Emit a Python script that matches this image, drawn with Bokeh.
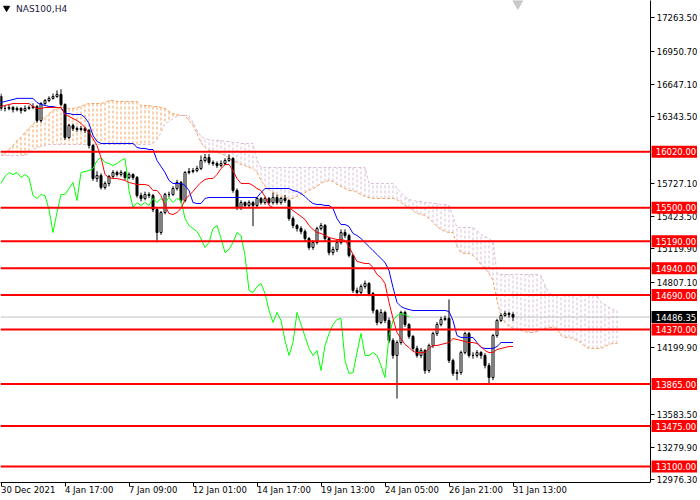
from bokeh.plotting import figure
from bokeh.models import FixedTicker, Label, Range1d, ColumnDataSource
from bokeh.layouts import column, row
from bokeh.core.properties import value
from bokeh.embed import file_html
from bokeh.resources import INLINE

# ---------------- data (NAS100, H4) ----------------
opens = [16533,16422,16422,16431,16412,16422,16403,16422,16431,16440,
         16310,16468,16496,16515,16533,16552,16459,16153,16264,16236,
         16227,16236,16218,16078,15772,15800,15689,15726,15791,15828,
         15809,15828,15781,15809,15781,15614,15587,15624,15614,15484,
         15271,15457,15624,15624,15679,15735,15568,15828,15837,15846,
         15865,15939,15967,15921,15911,15893,15911,15939,15958,15661,
         15503,15549,15522,15549,15522,15587,15549,15587,15549,15596,
         15549,15587,15568,15401,15336,15308,15280,15215,15132,15178,
         15308,15336,15215,15085,15113,15178,15271,15243,15058,14733,
         14714,14770,14798,14705,14547,14436,14529,14454,14269,14130,
         14250,14529,14417,14306,14195,14130,14176,13990,14222,14334,
         14417,14464,14473,14083,13963,13972,14157,14334,14130,14130,
         14157,14130,14037,13925,14315,14454,14501,14519,14510]
highs = [16560,16450,16455,16445,16440,16435,16450,16450,16470,16455,
         16480,16510,16535,16560,16590,16600,16470,16280,16280,16255,
         16260,16250,16230,16090,15840,15820,15745,15805,15850,15845,
         15850,15840,15830,15820,15795,15640,15650,15645,15630,15500,
         15470,15640,15650,15700,15760,15750,15840,15870,15870,15890,
         15985,16000,16000,15940,15930,15940,15960,15995,15970,15680,
         15570,15560,15570,15565,15600,15600,15605,15600,15640,15620,
         15600,15620,15580,15420,15350,15330,15300,15230,15200,15325,
         15360,15350,15230,15140,15200,15300,15300,15260,15070,14760,
         14790,14825,14810,14720,14560,14560,14545,14480,14290,14270,
         14545,14545,14430,14320,14220,14200,14190,14240,14350,14440,
         14490,14500,14650,14100,14000,14175,14350,14350,14160,14180,
         14170,14150,14060,14330,14470,14520,14540,14535,14530]
lows = [16400,16395,16405,16385,16395,16375,16390,16410,16415,16290,
        16290,16455,16480,16505,16520,16440,16130,16140,16215,16205,
        16210,16195,16050,15750,15740,15670,15670,15700,15775,15790,
        15790,15760,15765,15760,15595,15560,15570,15590,15460,15180,
        15250,15440,15600,15610,15660,15545,15550,15810,15820,15830,
        15850,15920,15900,15890,15870,15875,15895,15925,15640,15480,
        15480,15500,15505,15330,15505,15530,15530,15530,15530,15530,
        15530,15545,15380,15310,15280,15255,15190,15110,15110,15160,
        15290,15190,15060,15060,15090,15160,15220,15040,14710,14680,
        14690,14750,14680,14520,14410,14420,14430,14245,14100,13730,
        14230,14395,14285,14170,14110,14105,13960,13970,14200,14310,
        14400,14450,14060,13940,13900,13950,14140,14110,14100,14110,
        14100,14010,13860,13900,14295,14440,14490,14480,14450]
closes = [16422,16422,16431,16412,16422,16403,16422,16431,16440,16310,
          16468,16496,16515,16533,16552,16459,16153,16264,16236,16227,
          16236,16218,16078,15772,15800,15689,15726,15791,15828,15809,
          15828,15781,15809,15781,15614,15587,15624,15614,15484,15271,
          15457,15624,15624,15679,15735,15568,15828,15837,15846,15865,
          15939,15967,15921,15911,15893,15911,15939,15958,15661,15503,
          15549,15522,15549,15522,15587,15549,15587,15549,15596,15549,
          15587,15568,15401,15336,15308,15280,15215,15132,15178,15308,
          15336,15215,15085,15113,15178,15271,15243,15058,14733,14714,
          14770,14798,14705,14547,14436,14529,14454,14269,14130,14250,
          14529,14417,14306,14195,14130,14176,13990,14222,14334,14417,
          14464,14473,14083,13963,13972,14157,14334,14130,14130,14157,
          14130,14037,13925,14315,14454,14501,14519,14510,14486.35]

tenkan = [16440,16450,16459,16468,16468,16468,16468,16468,16440,16422,
          16422,16431,16431,16431,16431,16431,16366,16348,16329,16310,
          16283,16245,16199,16143,16078,15967,15809,15781,15772,15772,
          15763,15754,15735,15726,15716,15716,15716,15707,15661,15661,
          15614,15522,15447,15438,15457,15494,15577,15614,15652,15698,
          15735,15763,15772,15772,15809,15865,15902,15902,15846,15772,
          15726,15726,15726,15707,15679,15661,15605,15522,15503,15503,
          15503,15503,15503,15475,15447,15420,15392,15336,15299,15271,
          15262,15243,15225,15215,15206,15206,15197,15141,15067,15002,
          14993,14983,14983,14946,14881,14853,14798,14622,14473,14343,
          14287,14232,14204,14167,14157,14157,14157,14195,14222,14222,
          14232,14241,14250,14287,14278,14269,14260,14250,14250,14241,
          14213,14176,14157,14157,14185,14195,14204,14213,14213]
kijun = [16477,16487,16496,16505,16516,16516,16516,16516,16516,16477,
         16459,16450,16440,16440,16431,16431,16375,16375,16366,16366,
         16366,16338,16283,16171,16116,16097,16097,16097,16097,16097,
         16097,16097,16097,16097,16060,16051,16051,16041,16041,15939,
         15884,15828,15754,15726,15726,15726,15707,15661,15549,15540,
         15540,15587,15596,15596,15596,15596,15596,15596,15596,15596,
         15596,15596,15596,15596,15596,15642,15679,15679,15679,15679,
         15679,15679,15679,15661,15652,15633,15605,15568,15540,15531,
         15531,15522,15522,15494,15401,15345,15345,15327,15262,15243,
         15215,15178,15141,15104,15067,15030,14993,14918,14761,14622,
         14584,14566,14556,14547,14547,14547,14547,14547,14547,14547,
         14547,14547,14538,14454,14315,14297,14297,14297,14297,14250,
         14204,14195,14195,14195,14213,14250,14250,14250,14250]
span_a = [15986,16013,16041,16078,16125,16153,16199,16236,16273,16320,
          16329,16338,16375,16403,16422,16431,16431,16422,16422,16431,
          16440,16459,16468,16468,16468,16468,16477,16496,16496,16487,
          16487,16487,16487,16487,16487,16450,16450,16450,16440,16440,
          16431,16422,16394,16375,16366,16357,16357,16310,16264,16190,
          16106,16060,16032,16032,16013,16004,15986,15967,15939,15921,
          15902,15893,15874,15865,15828,15754,15698,15670,15642,15624,
          15605,15596,15587,15587,15605,15624,15642,15661,15679,15698,
          15726,15744,15754,15744,15716,15698,15679,15661,15661,15642,
          15624,15605,15596,15587,15587,15587,15587,15587,15587,15577,
          15549,15522,15503,15475,15447,15438,15429,15401,15364,15327,
          15299,15280,15271,15271,15141,15085,15076,15076,15058,15020,
          14974,14937,14891,14826,14640,14492,14436,14399,14380,14371,
          14362,14352,14343,14343,14352,14371,14380,14389,14389,14380,
          14315,14297,14297,14287,14269,14250,14213,14195,14195,14195,
          14195,14213,14232,14241,14241]
span_b = [15986,15986,15986,15986,15986,15986,15986,16004,16041,16060,
          16069,16078,16088,16088,16088,16088,16088,16088,16088,16088,
          16088,16088,16088,16088,16088,16088,16088,16088,16088,16088,
          16088,16088,16088,16088,16088,16088,16088,16088,16097,16134,
          16199,16283,16301,16329,16348,16357,16357,16357,16292,16218,
          16162,16143,16134,16125,16125,16125,16116,16116,16106,16106,
          16097,16097,16097,16097,15939,15874,15874,15874,15874,15874,
          15874,15874,15874,15874,15874,15874,15874,15874,15874,15874,
          15874,15874,15874,15874,15874,15874,15874,15874,15874,15874,
          15874,15874,15726,15726,15726,15726,15726,15726,15726,15679,
          15642,15605,15577,15568,15559,15559,15549,15549,15540,15540,
          15531,15531,15522,15420,15317,15317,15317,15317,15317,15290,
          15252,15234,15215,15187,14891,14881,14881,14881,14881,14881,
          14881,14881,14881,14881,14881,14872,14779,14705,14696,14696,
          14696,14696,14696,14696,14696,14696,14696,14696,14696,14686,
          14622,14603,14575,14556,14547]
chikou_shift = 26

levels = [16020, 15500, 15190, 14940, 14690, 14370, 13865, 13475, 13100]
last_price = 14486.35
price_ticks = [17263.50, 16950.70, 16647.10, 16343.50, 15727.10, 15423.50,
               15119.90, 14807.10, 14199.90, 13583.50, 13279.90, 12976.30]
time_tick_bars = [0, 16, 32, 48, 64, 80, 96, 112, 128]
time_tick_labels = ["30 Dec 2021", "4 Jan 17:00", "7 Jan 09:00", "12 Jan 01:00",
                    "14 Jan 17:00", "19 Jan 13:00", "24 Jan 05:00", "26 Jan 21:00",
                    "31 Jan 13:00"]
symbol_title = "NAS100,H4"

# ---------------- geometry / style ----------------
W_MAIN, H_MAIN = 650, 482
W_SIDE, H_BOT = 47, 17
X0 = -0.125
X1 = X0 + W_MAIN / 4.0          # 4 px per bar
Y1 = 17424.0
PPX = 9.28                      # price per pixel
Y0 = Y1 - H_MAIN * PPX
FONT = "DejaVu Sans"
FS = "8.5px"

# ---------------- main chart ----------------
p = figure(width=W_MAIN, height=H_MAIN, x_range=Range1d(X0, X1), y_range=Range1d(Y0, Y1),
           x_axis_location=None, y_axis_location=None,
           output_backend="svg", toolbar_location=None, min_border=0)
p.xgrid.visible = False
p.ygrid.visible = False
p.outline_line_color = None
p.background_fill_color = "white"
p.border_fill_color = "white"

# Ichimoku cloud
cloud_x = list(range(len(span_a)))
hatch_col = ["#f4a460" if a >= b else "#d8bfd8" for a, b in zip(span_a, span_b)]
p.segment(x0=cloud_x, y0=span_a, x1=cloud_x, y1=span_b, line_color=hatch_col,
          line_width=1, line_dash="3 2")
p.line(cloud_x, span_a, line_color="#f4a460", line_width=1, line_dash="3 2")
p.line(cloud_x, span_b, line_color="#d8bfd8", line_width=1, line_dash="3 2")

# current price line
p.line([X0, X1], [last_price, last_price], line_color="#c0c0c0", line_width=1)

# candles
bars = list(range(len(closes)))
src = ColumnDataSource(dict(
    x=bars, o=opens, h=highs, l=lows, c=closes,
    top=[max(o, c) for o, c in zip(opens, closes)],
    bot=[min(o, c) for o, c in zip(opens, closes)],
    fill=["white" if c >= o else "black" for o, c in zip(opens, closes)],
))
p.segment(x0="x", y0="h", x1="x", y1="l", source=src, line_color="black", line_width=1)
p.vbar(x="x", top="top", bottom="bot", width=0.5, source=src,
       fill_color="fill", line_color="black", line_width=1)

# indicator lines
chikou_x = [i - chikou_shift for i in bars[chikou_shift:]]
p.line(chikou_x, closes[chikou_shift:], line_color="#00ff00", line_width=1)
p.line(bars, kijun, line_color="#0000ff", line_width=1)
p.line(bars, tenkan, line_color="#ff0000", line_width=1)

# horizontal levels
for lv in levels:
    p.line([X0, X1], [lv, lv], line_color="#ff0000", line_width=2)

# symbol caption and chart-shift marker
p.scatter([1.4], [Y1 - 7.5 * PPX], marker="inverted_triangle", size=6,
          fill_color="black", line_color="black")
p.add_layout(Label(x=3.75, y=Y1 - 8 * PPX, text=symbol_title, text_align="left",
                   text_baseline="middle", text_color="#202040", text_font=FONT,
                   text_font_size="9px"))
p.scatter([129.2], [Y1 - 3 * PPX], marker="inverted_triangle", size=10,
          fill_color="#c8c8c8", line_color="#c8c8c8")

# ---------------- time scale (bottom) ----------------
bottom = figure(width=W_MAIN, height=H_BOT, x_range=p.x_range, y_range=Range1d(0, 15),
                x_axis_location="above", y_axis_location=None,
                output_backend="svg", toolbar_location=None, min_border=0)
bottom.xgrid.visible = False
bottom.ygrid.visible = False
bottom.outline_line_color = None
bottom.border_fill_color = "white"
xa = bottom.xaxis[0]
xa.ticker = FixedTicker(ticks=time_tick_bars)
xa.major_label_overrides = {t: "" for t in time_tick_bars}
xa.major_tick_in = 4
xa.major_tick_out = 0
xa.major_label_standoff = 0
xa.minor_tick_line_color = None
xa.axis_line_color = "black"
xa.major_tick_line_color = "black"

bottom.text(x=time_tick_bars, y=8, text=time_tick_labels, x_offset=0,
            text_font=value(FONT), text_font_size=FS, text_color="black",
            text_baseline="middle", text_align="left")

# ---------------- price scale (right) ----------------
H_SIDE = H_MAIN + H_BOT
side = figure(width=W_SIDE, height=H_SIDE, x_range=Range1d(0, 45),
              y_range=Range1d(Y1 - H_SIDE * PPX, Y1),
              x_axis_location=None, y_axis_location="left",
              output_backend="svg", toolbar_location=None, min_border=0)
side.xgrid.visible = False
side.ygrid.visible = False
side.outline_line_color = None
side.border_fill_color = "white"
ya = side.yaxis[0]
ya.ticker = FixedTicker(ticks=price_ticks)
ya.major_label_overrides = {t: "" for t in price_ticks}
ya.bounds = (Y0, Y1)
ya.major_tick_in = 4
ya.major_tick_out = 0
ya.major_label_standoff = 0
ya.minor_tick_line_color = None
ya.axis_line_color = "black"
ya.major_tick_line_color = "black"

side.text(x=6, y=price_ticks, text=[f"{t:.2f}" for t in price_ticks],
          text_font=value(FONT), text_font_size=FS, text_color="black",
          text_baseline="middle", text_align="left")
side.rect(x=24, y=levels, width=46, height=12, height_units="screen",
          fill_color="#ff0000", line_color=None)
side.text(x=5, y=levels, text=[f"{lv:.2f}" for lv in levels],
          text_font=value(FONT), text_font_size=FS, text_color="white",
          text_baseline="middle", text_align="left")
side.rect(x=24, y=[last_price], width=46, height=12, height_units="screen",
          fill_color="black", line_color=None)
side.text(x=5, y=[last_price], text=[f"{last_price:.2f}"],
          text_font=value(FONT), text_font_size=FS, text_color="white",
          text_baseline="middle", text_align="left")

layout = row(column(p, bottom), side)
open("out.html", "w").write(file_html(layout, INLINE))
